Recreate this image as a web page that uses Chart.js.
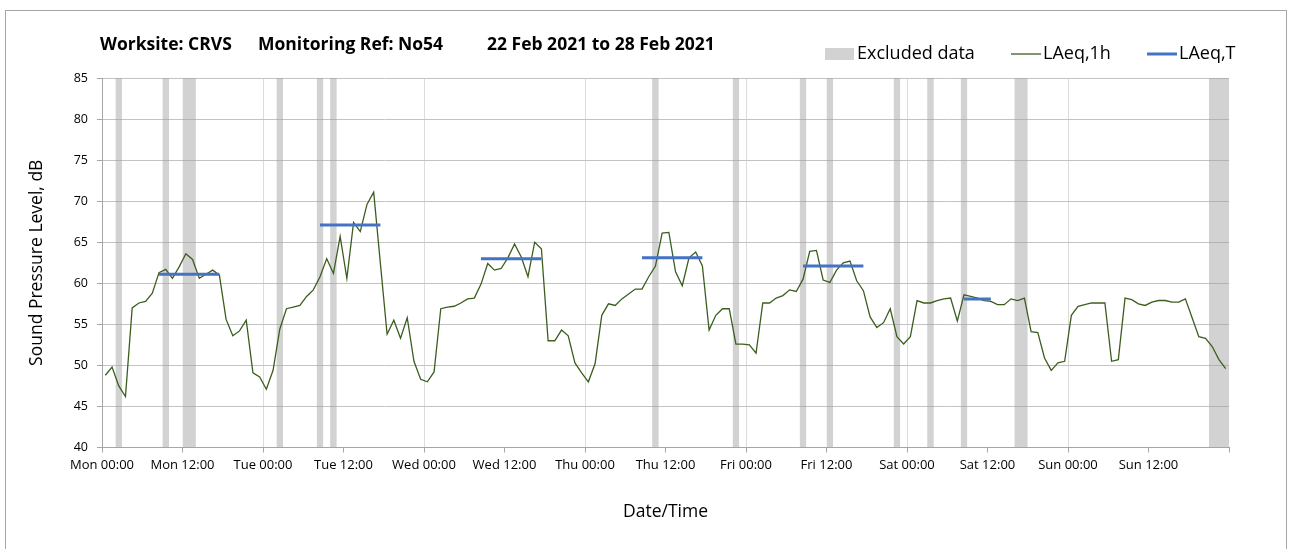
<!DOCTYPE html>
<html>
<head>
<meta charset="utf-8">
<script src="https://cdn.jsdelivr.net/npm/chart.js@4.4.1/dist/chart.umd.min.js"></script>
<style>
  html, body { margin: 0; padding: 0; background: #fff; }
</style>
</head>
<body>
<canvas id="chart" width="1295" height="549"></canvas>
<script>
// x axis is hours since Mon 00:00, one tick label every 12 h
const dayTicks = ['Mon 00:00', 'Mon 12:00', 'Tue 00:00', 'Tue 12:00', 'Wed 00:00', 'Wed 12:00',
  'Thu 00:00', 'Thu 12:00', 'Fri 00:00', 'Fri 12:00', 'Sat 00:00', 'Sat 12:00', 'Sun 00:00', 'Sun 12:00'];

// LAeq,1h - one value per hour, plotted at the middle of the hour
const hourlyLevels = [
  48.8, 49.8, 47.5, 46.2, 57.0, 57.6, 57.8, 58.8, 61.3, 61.7,
  60.6, 62.0, 63.6, 62.9, 60.6, 61.1, 61.6, 61.0, 55.6, 53.6,
  54.2, 55.5, 49.1, 48.6, 47.1, 49.4, 54.4, 56.9, 57.1, 57.3,
  58.4, 59.2, 60.8, 63.0, 61.2, 65.7, 60.6, 67.4, 66.3, 69.6,
  71.1, 62.4, 53.8, 55.5, 53.3, 55.8, 50.5, 48.3, 48.0, 49.2,
  56.9, 57.1, 57.2, 57.6, 58.1, 58.2, 59.9, 62.4, 61.6, 61.8,
  63.1, 64.8, 63.2, 60.8, 65.0, 64.2, 53.0, 53.0, 54.3, 53.6,
  50.3, 49.1, 48.0, 50.2, 56.1, 57.5, 57.3, 58.1, 58.7, 59.3,
  59.3, 60.8, 62.1, 66.1, 66.2, 61.4, 59.7, 63.1, 63.8, 62.1,
  54.3, 56.1, 56.9, 56.9, 52.6, 52.6, 52.5, 51.5, 57.6, 57.6,
  58.2, 58.5, 59.2, 59.0, 60.5, 63.9, 64.0, 60.4, 60.1, 61.6,
  62.5, 62.7, 60.3, 59.1, 55.9, 54.6, 55.2, 56.9, 53.5, 52.6,
  53.5, 57.9, 57.6, 57.6, 57.9, 58.1, 58.2, 55.4, 58.6, 58.4,
  58.2, 57.9, 57.8, 57.4, 57.4, 58.1, 57.9, 58.2, 54.1, 54.0,
  50.9, 49.4, 50.3, 50.5, 56.1, 57.2, 57.4, 57.6, 57.6, 57.6,
  50.5, 50.7, 58.2, 58.0, 57.5, 57.3, 57.7, 57.9, 57.9, 57.7,
  57.7, 58.1, 55.8, 53.5, 53.3, 52.3, 50.7, 49.6
];

// excluded periods, hours from Mon 00:00
const excludedStart = [2, 9, 12, 26, 32, 34, 82, 94, 104, 108, 118, 123, 128, 136, 165];
const excludedEnd   = [3, 10, 14, 27, 33, 35, 83, 95, 105, 109, 119, 124, 129, 138, 168];

// LAeq,T daytime periods
const periodStart = [8.5, 32.5, 56.5, 80.5, 104.5, 128.5];
const periodEnd   = [17.5, 41.5, 65.5, 89.5, 113.5, 132.5];
const periodLevel = [61.1, 67.1, 63.0, 63.1, 62.1, 58.1];

const Y_MIN = 40, Y_MAX = 85;
const FONT = '"Open Sans", Lato, sans-serif';

const lineData = hourlyLevels.map((v, i) => ({ x: i + 0.5, y: v }));

const bandData = [];
excludedStart.forEach((s, i) => {
  bandData.push({ x: s, y: Y_MAX }, { x: excludedEnd[i], y: Y_MAX }, { x: excludedEnd[i], y: null });
});

const periodData = [];
periodStart.forEach((s, i) => {
  periodData.push({ x: s, y: periodLevel[i] }, { x: periodEnd[i], y: periodLevel[i] }, { x: periodEnd[i], y: null });
});

// outer frame, title and legend
const decor = {
  id: 'decor',
  beforeDraw(chart) {
    const ctx = chart.ctx;
    ctx.save();
    ctx.fillStyle = '#fff';
    ctx.fillRect(0, 0, chart.width, chart.height);
    ctx.strokeStyle = '#a6a6a6';
    ctx.lineWidth = 1;
    ctx.strokeRect(5.5, 10.5, 1281, 600);
    ctx.restore();
  },
  afterDraw(chart) {
    const ctx = chart.ctx;
    ctx.save();
    ctx.fillStyle = '#000';
    ctx.textBaseline = 'middle';
    ctx.font = 'bold 17.5px ' + FONT;
    ctx.fillText('Worksite: CRVS', 100, 45);
    ctx.fillText('Monitoring Ref: No54', 258, 45);
    ctx.fillText('22 Feb 2021 to 28 Feb 2021', 487, 45);

    ctx.font = '18px ' + FONT;
    const ds = chart.data.datasets;
    // Excluded data
    ctx.fillStyle = ds[2].backgroundColor;
    ctx.fillRect(825, 48, 29, 12);
    ctx.fillStyle = '#000';
    ctx.fillText(ds[2].label, 857, 54);
    // LAeq,1h
    ctx.strokeStyle = ds[1].borderColor;
    ctx.lineWidth = 1.3;
    ctx.beginPath(); ctx.moveTo(1011, 54); ctx.lineTo(1041, 54); ctx.stroke();
    ctx.fillText(ds[1].label, 1043, 54);
    // LAeq,T
    ctx.strokeStyle = ds[0].borderColor;
    ctx.lineWidth = 3;
    ctx.beginPath(); ctx.moveTo(1147, 54); ctx.lineTo(1177, 54); ctx.stroke();
    ctx.fillText(ds[0].label, 1179, 54);
    ctx.restore();
  }
};

new Chart(document.getElementById('chart'), {
  type: 'line',
  data: {
    datasets: [
      { label: 'LAeq,T', data: periodData, borderColor: '#4472c4', borderWidth: 3, pointRadius: 0,
        spanGaps: false, fill: false, borderCapStyle: 'butt', order: 1 },
      { label: 'LAeq,1h', data: lineData, borderColor: '#3b5e1f', borderWidth: 1.3, pointRadius: 0,
        tension: 0, fill: false, order: 2 },
      { label: 'Excluded data', data: bandData, borderColor: 'transparent', borderWidth: 0, pointRadius: 0,
        backgroundColor: 'rgba(160,160,160,0.47)', fill: 'start', spanGaps: false, order: 3 }
    ]
  },
  options: {
    responsive: false,
    animation: false,
    layout: { padding: { top: 78, right: 66, bottom: 0, left: 0 } },
    plugins: { legend: { display: false }, title: { display: false }, tooltip: { enabled: false } },
    scales: {
      x: {
        type: 'linear', min: 0, max: 168,
        afterFit: s => { s.height = 101.5; },
        ticks: {
          stepSize: 12, autoSkip: false, maxRotation: 0, padding: 5, color: '#000',
          font: { family: FONT, size: 13 },
          callback: v => dayTicks[v / 12] || ''
        },
        grid: {
          color: c => (c.tick && c.tick.value % 24 === 0 && c.tick.value < 168) ? '#dcdcdc' : 'rgba(0,0,0,0)',
          tickColor: '#a6a6a6', tickLength: 5, lineWidth: 1
        },
        border: { color: '#a6a6a6' },
        title: { display: true, text: 'Date/Time', color: '#000', font: { family: FONT, size: 17.5 }, padding: { bottom: 26 } }
      },
      y: {
        min: Y_MIN, max: Y_MAX,
        afterFit: s => { s.width = 102; },
        ticks: { stepSize: 5, padding: 9, color: '#000', font: { family: FONT, size: 12.5 } },
        grid: { color: '#c3c3c3', tickColor: '#a6a6a6', tickLength: 5, lineWidth: 1 },
        border: { color: '#a6a6a6' },
        title: { display: true, text: 'Sound Pressure Level, dB', color: '#000', font: { family: FONT, size: 17.5 }, padding: { top: 27 } }
      }
    }
  },
  plugins: [decor]
});
</script>
</body>
</html>
